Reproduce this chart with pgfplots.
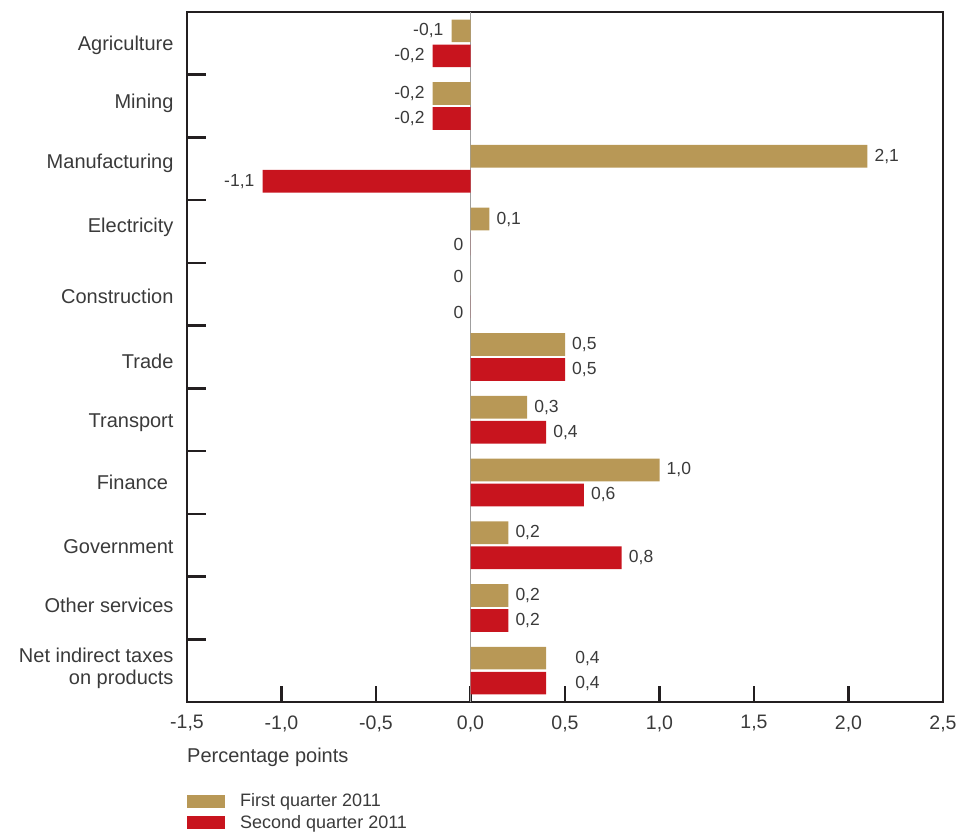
\documentclass[border=0pt]{standalone}
\usepackage{fontspec}
\setmainfont{Liberation Sans}
\usepackage{pgfplots}
\pgfplotsset{compat=1.18}
\definecolor{gold}{HTML}{B89856}
\definecolor{barred}{HTML}{C8141E}
\definecolor{axiscol}{HTML}{231F20}
\definecolor{textcol}{HTML}{3A3A3A}

\pgfplotsset{
  barlbl/.style={
    nodes near coords,
    point meta=explicit symbolic,
    visualization depends on={value \thisrow{anc}\as\myanc},
    visualization depends on={\thisrow{dx}\as\mydx},
    visualization depends on={\thisrow{dy}\as\mydy},
    nodes near coords style={anchor=\myanc, xshift=\mydx, yshift=\mydy,
      inner sep=1pt, text=textcol, font=\fontsize{17.5}{20}\selectfont},
  },
}

\begin{document}
\begin{tikzpicture}[x=1pt,y=1pt]
\useasboundingbox (0,0) rectangle (963,834);
\begin{axis}[
  at={(187pt,132pt)}, anchor=south west,
  scale only axis, width=756pt, height=690pt,
  xmin=-1.5, xmax=2.5, ymin=-0.5, ymax=10.5,
  xbar, bar width=22.7pt,
  clip=false,
  axis line style={draw=axiscol, line width=2.6pt},
  xtick={-1.5,-1.0,-0.5,0,0.5,1.0,1.5,2.0,2.5},
  xtick pos=left, ytick pos=left,
  tick align=inside,
  major tick length=16pt, minor tick length=19pt,
  tick style={draw=axiscol, line width=2.6pt},
  every major y tick/.append style={draw=none},
  ytick={0.032,1.046,1.971,3.007,3.948,4.936,5.972,7.072,8.093,9.049,9.974},
  minor ytick={0.5,1.5,...,9.5},
  yticklabels={{Net indirect taxes\\on products},Other services,Government,Finance~,Transport,Trade,Construction,Electricity,Manufacturing,Mining,Agriculture},
  yticklabel style={font=\fontsize{20}{22}\selectfont, text=textcol, align=right, xshift=-10pt},
  xticklabel style={font=\fontsize{19.5}{22}\selectfont, text=textcol, yshift=-10pt,
    /pgf/number format/.cd, fixed, fixed zerofill, precision=1, use comma, assume math mode=true},
  xlabel={Percentage points},
  xlabel style={at={(axis description cs:0,-0.08)}, anchor=west, inner sep=0pt,
    font=\fontsize{20}{22}\selectfont, text=textcol},
  legend style={at={(axis description cs:0,-0.13)}, anchor=north west, draw=none, fill=none,
    font=\fontsize{18}{21}\selectfont, text=textcol, inner sep=0pt, row sep=3pt,
    /tikz/every odd column/.append style={column sep=13pt}},
  legend cell align=left,
]
\draw[gray!75, line width=1.2pt] (axis cs:0,-0.5) -- (axis cs:0,10.5);
\addplot[fill=gold, draw=none, bar shift=12.5pt, barlbl,
  legend image code/.code={\fill[gold] (0pt,-6.5pt) rectangle (38pt,6.5pt);}]
  table[x=x, y=y, meta=lbl] {
y  x    lbl  anc  dx  dy
10 -0.1 -0,1 east -7  0
9  -0.2 -0,2 east -7  0
8  2.1  2,1  west 6   0
7  0.1  0,1  west 6   0
6  0    0    east -6  5.5
5  0.5  0,5  west 6   0
4  0.3  0,3  west 6   0
3  1.0  1,0  west 6   0
2  0.2  0,2  west 6   0
1  0.2  0,2  west 6   0
0  0.4  0,4  west 28  0
};
\addlegendentry{First quarter 2011}
\addplot[fill=barred, draw=none, bar shift=-12.5pt, barlbl,
  legend image code/.code={\fill[barred] (0pt,-6.5pt) rectangle (38pt,6.5pt);}]
  table[x=x, y=y, meta=lbl] {
y  x    lbl  anc  dx  dy
10 -0.2 -0,2 east -7  0
9  -0.2 -0,2 east -7  0
8  -1.1 -1,1 east -7  0
7  0    0    east -6  0
6  0    0    east -6  -5.5
5  0.5  0,5  west 6   0
4  0.4  0,4  west 6   0
3  0.6  0,6  west 6   0
2  0.8  0,8  west 6   0
1  0.2  0,2  west 6   0
0  0.4  0,4  west 28  0
};
\addlegendentry{Second quarter 2011}
\end{axis}
\end{tikzpicture}
\end{document}
